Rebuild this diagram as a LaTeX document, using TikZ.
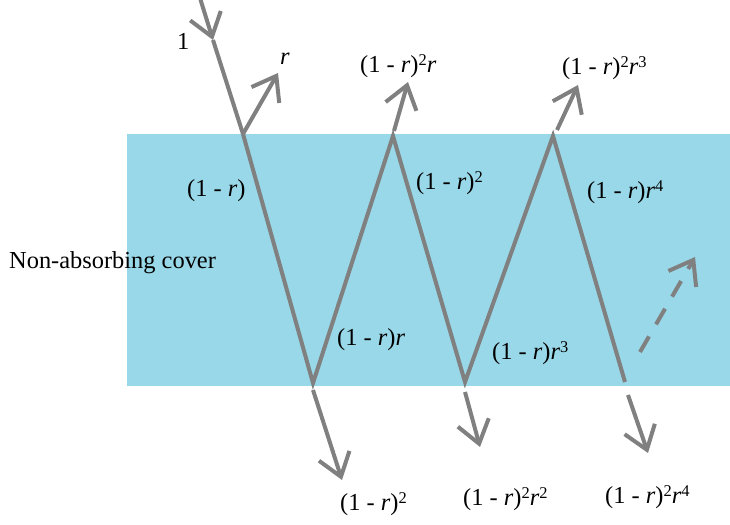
\documentclass[tikz,border=0pt]{standalone}
\usepackage{fontspec}
\setmainfont{Liberation Serif}
\usetikzlibrary{arrows.meta}
\definecolor{cover}{RGB}{153,216,232}
\definecolor{raygray}{RGB}{128,128,128}
\newcommand\spr[1]{\raisebox{7bp}{\fontsize{16.5}{16.5}\selectfont #1}}
\newcommand\ir{\textit{r}}
\begin{document}
\begin{tikzpicture}[x=1bp,y=-1bp,
  ray/.style={draw=raygray,line width=4bp},
  arr/.style={ray,-{Straight Barb[length=22bp,width=32bp]}},
  dasharr/.style={arr,dash pattern=on 18bp off 14bp},
  lbl/.style={anchor=base west,inner sep=0pt,font=\fontsize{24.5}{28}\selectfont}]
\useasboundingbox (0,0) rectangle (730,525);
\fill[cover] (127,134) rectangle (730,386);
\node[lbl] (cov) at (9,269) {Non-absorbing cover};
% path coordinates
\coordinate (src) at (200,-2);
\coordinate (inc) at (213,40);
\coordinate (v1) at (243,134);
\coordinate (b1) at (313,383);
\coordinate (v2) at (393,136);
\coordinate (b2) at (465,382);
\coordinate (v3) at (553,136);
\coordinate (b3) at (625,382);
\coordinate (r1) at (278,73);
\coordinate (r2s) at (394,131);
\coordinate (r2) at (408,82);
\coordinate (r3s) at (557,130);
\coordinate (r3) at (578,85);
\coordinate (t1s) at (313,390);
\coordinate (t1) at (342,480);
\coordinate (t2s) at (465,392);
\coordinate (t2) at (480,447);
\coordinate (t3s) at (628,395);
\coordinate (t3) at (648,453);
\coordinate (ds) at (640,352);
\coordinate (de) at (695,257);
% rays
\draw[arr] (src) -- (inc);
\draw[ray] (inc) -- (v1);
\draw[ray,line join=miter] (v1) -- (b1) -- (v2) -- (b2) -- (v3) -- (b3);
\draw[arr] (v1) -- (r1);
\draw[arr] (r2s) -- (r2);
\draw[arr] (r3s) -- (r3);
\draw[arr] (t1s) -- (t1);
\draw[arr] (t2s) -- (t2);
\draw[arr] (t3s) -- (t3);
\draw[dasharr] (ds) -- (de);
% labels
\node[lbl] (l1) at (177,50) {1};
\node[lbl] (lr) at (280,65) {\ir};
\node[lbl] (lr2) at (360,73) {(1 - \ir)\spr{2}\ir};
\node[lbl] (lr3) at (562,75) {(1 - \ir)\spr{2}\ir\spr{3}};
\node[lbl] (li1) at (187,197) {(1 - \ir)};
\node[lbl] (li2) at (416,190) {(1 - \ir)\spr{2}};
\node[lbl] (li3) at (587,199) {(1 - \ir)\ir\spr{4}};
\node[lbl] (li4) at (337,345) {(1 - \ir)\ir};
\node[lbl] (li5) at (492,359) {(1 - \ir)\ir\spr{3}};
\node[lbl] (lt1) at (340,510) {(1 - \ir)\spr{2}};
\node[lbl] (lt2) at (463,505) {(1 - \ir)\spr{2}\ir\spr{2}};
\node[lbl] (lt3) at (605,503) {(1 - \ir)\spr{2}\ir\spr{4}};
\end{tikzpicture}
\end{document}
